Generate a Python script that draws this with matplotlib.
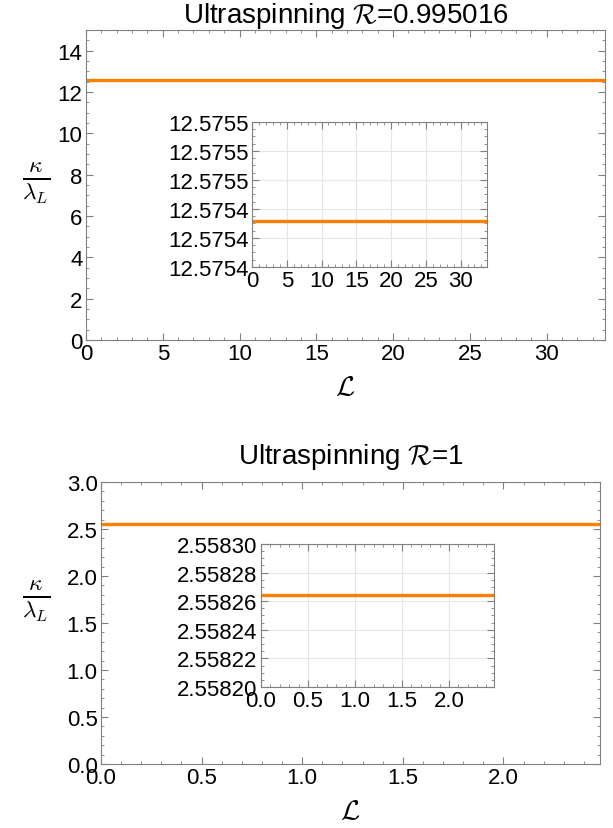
import matplotlib
matplotlib.use("Agg")
import matplotlib.pyplot as plt
from matplotlib.ticker import MultipleLocator, FormatStrFormatter

plt.rcParams['font.family'] = ['Liberation Sans', 'DejaVu Sans']
plt.rcParams['mathtext.fontset'] = 'cm'

# data
L_top = [0, 33.8]
kappa_top = [12.5754319, 12.5754319]
L_bot = [0, 2.48]
kappa_bot = [2.5582645, 2.5582645]

orange = '#FF8000'
frame = '#808080'
W, H = 613, 829

fig = plt.figure(figsize=(W / 100, H / 100), dpi=100)


def box(l, t, r, b):
    return [l / W, 1 - b / H, (r - l) / W, (b - t) / H]


def style(ax, xmaj, xmin, ymaj, ymin, fs=16, grid=False):
    for s in ax.spines.values():
        s.set_color(frame)
    ax.xaxis.set_major_locator(MultipleLocator(xmaj))
    ax.xaxis.set_minor_locator(MultipleLocator(xmin))
    ax.yaxis.set_major_locator(MultipleLocator(ymaj))
    ax.yaxis.set_minor_locator(MultipleLocator(ymin))
    ax.tick_params(which='both', direction='in', top=True, right=True,
                   color=frame, labelsize=fs, pad=2.5)
    ax.tick_params(which='major', length=5)
    ax.tick_params(which='minor', length=2.5)
    if grid:
        ax.grid(True, which='major', color='#e6e6e6', lw=0.8)
        ax.set_axisbelow(True)


ylab = r'$\frac{\kappa}{\lambda_L}$'

# top panel
ax1 = fig.add_axes(box(86, 31, 605, 341))
ax1.plot(L_top, kappa_top, color=orange, lw=2.4)
ax1.set_xlim(0, 33.8)
ax1.set_ylim(0, 15)
style(ax1, 5, 1, 2, 0.5)
ax1.set_title(r'Ultraspinning $\mathcal{R}$=0.995016', fontsize=20, pad=6)
ax1.set_xlabel(r'$\mathcal{L}$', fontsize=20, labelpad=7)
ax1.set_ylabel(ylab, fontsize=24, rotation=0, va='center', ha='center')
ax1.yaxis.set_label_coords(-0.096, 0.51)

in1 = fig.add_axes(box(252, 123, 487, 268))
in1.plot(L_top, kappa_top, color=orange, lw=2.4)
in1.set_xlim(0, 33.8)
in1.set_ylim(12.5754, 12.5755)
style(in1, 5, 1, 0.00002, 0.000005, grid=True)
in1.yaxis.set_major_formatter(FormatStrFormatter('%.4f'))
in1.yaxis.get_offset_text().set_visible(False)

# bottom panel
ax2 = fig.add_axes(box(101, 483, 600, 765))
ax2.plot(L_bot, kappa_bot, color=orange, lw=2.4)
ax2.set_xlim(0, 2.48)
ax2.set_ylim(0, 3.0)
style(ax2, 0.5, 0.1, 0.5, 0.1)
ax2.xaxis.set_major_formatter(FormatStrFormatter('%.1f'))
ax2.yaxis.set_major_formatter(FormatStrFormatter('%.1f'))
ax2.set_title(r'Ultraspinning $\mathcal{R}$=1', fontsize=20, pad=14)
ax2.set_xlabel(r'$\mathcal{L}$', fontsize=20, labelpad=7)
ax2.set_ylabel(ylab, fontsize=24, rotation=0, va='center', ha='center')
ax2.yaxis.set_label_coords(-0.13, 0.58)

in2 = fig.add_axes(box(261, 545, 494, 688))
in2.plot(L_bot, kappa_bot, color=orange, lw=2.4)
in2.set_xlim(0, 2.48)
in2.set_ylim(2.5582, 2.5583)
style(in2, 0.5, 0.1, 0.00002, 0.000005, grid=True)
in2.xaxis.set_major_formatter(FormatStrFormatter('%.1f'))
in2.yaxis.set_major_formatter(FormatStrFormatter('%.5f'))
in2.yaxis.get_offset_text().set_visible(False)

fig.savefig('out.png', dpi=100)
